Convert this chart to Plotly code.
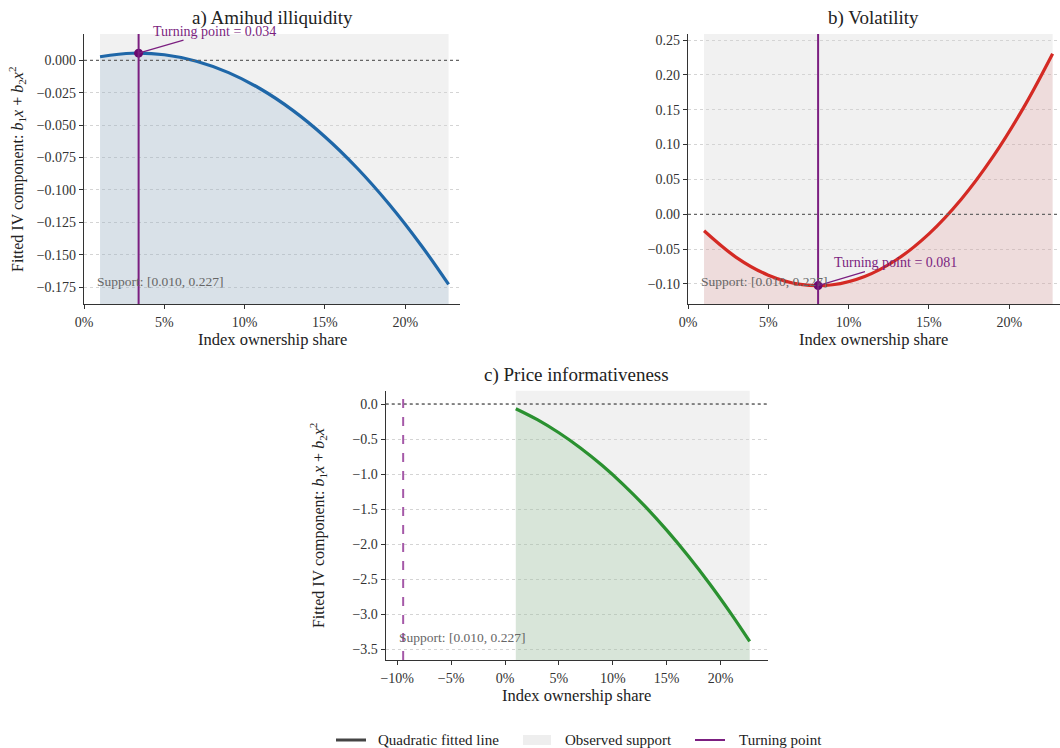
import plotly.graph_objects as go

# ---------------- data ----------------
x_grid = [0.010, 0.030, 0.050, 0.070, 0.090, 0.110, 0.130, 0.150, 0.170, 0.190, 0.210, 0.227]
amihud_y = [0.00278, 0.00546, 0.00431, -0.00067, -0.00949, -0.02213, -0.03861, -0.05892,
            -0.08306, -0.11104, -0.14284, -0.17289]
vol_y = [-0.02371, -0.06177, -0.08735, -0.10045, -0.10107, -0.08921, -0.06487, -0.02805,
         0.02125, 0.08303, 0.15729, 0.23022]
info_y = [-0.0668, -0.2232, -0.410, -0.6272, -0.8748, -1.1528, -1.4612, -1.800,
          -2.1692, -2.5688, -2.9988, -3.3882]
support = [0.010, 0.227]
panel_titles = ["a) Amihud illiquidity", "b) Volatility", "c) Price informativeness"]
turning_x = [0.034, 0.081, -0.0945]
turning_y = [0.0055, -0.1023, None]
turning_text = ["Turning point = 0.034", "Turning point = 0.081", None]
support_text = "Support: [0.010, 0.227]"
legend_labels = ["Quadratic fitted line", "Observed support", "Turning point"]

x_ticks_ab = [0, 0.05, 0.10, 0.15, 0.20]
x_ticks_c = [-0.10, -0.05, 0, 0.05, 0.10, 0.15, 0.20]
y_ticks_a = [0, -0.025, -0.05, -0.075, -0.10, -0.125, -0.15, -0.175]
y_ticks_b = [-0.10, -0.05, 0, 0.05, 0.10, 0.15, 0.20, 0.25]
y_ticks_c = [0, -0.5, -1.0, -1.5, -2.0, -2.5, -3.0, -3.5]

# ---------------- styling ----------------
FONT = "Liberation Serif"
PURPLE = "#7b1f80"
SUPPORT_FILL = "#f1f1f1"
W, H = 1060, 748

panels = [
    dict(y=amihud_y, color="#1f67a8", fill="rgba(31,103,168,0.11)",
         xdom=[84 / W, 460 / W], ydom=[1 - 304 / H, 1 - 34 / H],
         xr=[0, 0.2341], yr=[-0.188, 0.0203], xt=x_ticks_ab, yt=y_ticks_a, yfmt=".3f",
         ytitle=True, vdash="solid", ann=(76, -22)),
    dict(y=vol_y, color="#d42a24", fill="rgba(212,42,36,0.10)",
         xdom=[688 / W, 1.0], ydom=[1 - 304 / H, 1 - 34 / H],
         xr=[0, 0.2316], yr=[-0.1287, 0.2586], xt=x_ticks_ab, yt=y_ticks_b, yfmt=".2f",
         ytitle=False, vdash="solid", ann=(77, -23)),
    dict(y=info_y, color="#2a9130", fill="rgba(42,145,48,0.12)",
         xdom=[385.7 / W, 768 / W], ydom=[1 - 660 / H, 1 - 390.7 / H],
         xr=[-0.1107, 0.2440], yr=[-3.653, 0.19], xt=x_ticks_c, yt=y_ticks_c, yfmt=".1f",
         ytitle=True, vdash="dash", ann=None),
]

fig = go.Figure()
shapes = []
annotations = []

for i, p in enumerate(panels):
    n = "" if i == 0 else str(i + 1)
    xa, ya = "x" + n, "y" + n
    ymin = p["yr"][0]
    # baseline for fill
    fig.add_trace(go.Scatter(x=[support[0], support[1]], y=[ymin, ymin], xaxis=xa, yaxis=ya,
                             mode="lines", line=dict(width=0), showlegend=False,
                             hoverinfo="skip"))
    fig.add_trace(go.Scatter(x=x_grid, y=p["y"], xaxis=xa, yaxis=ya, mode="lines",
                             line=dict(color=p["color"], width=3.2, shape="spline"),
                             fill="tonexty", fillcolor=p["fill"], showlegend=False))
    # support shading
    shapes.append(dict(type="rect", xref=xa, yref=ya + " domain", x0=support[0], x1=support[1],
                       y0=0, y1=1, fillcolor=SUPPORT_FILL, line=dict(width=0), layer="below"))
    # zero line
    shapes.append(dict(type="line", xref=xa + " domain", yref=ya, x0=0, x1=1, y0=0, y1=0,
                       line=dict(color="#666666", width=1.3, dash="dot"), layer="above"))
    # turning line
    tcolor = PURPLE if p["vdash"] == "solid" else "#a559a8"
    shapes.append(dict(type="line", xref=xa, yref=ya + " domain", x0=turning_x[i], x1=turning_x[i],
                       y0=0, y1=1, line=dict(color=tcolor, width=2, dash=p["vdash"]),
                       layer="above"))
    if turning_y[i] is not None:
        fig.add_trace(go.Scatter(x=[turning_x[i]], y=[turning_y[i]], xaxis=xa, yaxis=ya,
                                 mode="markers", marker=dict(color="#6a0a6e", size=9),
                                 showlegend=False))
        annotations.append(dict(x=turning_x[i], y=turning_y[i], xref=xa, yref=ya,
                                text=turning_text[i], showarrow=True, arrowhead=0,
                                arrowwidth=1.2, arrowcolor=PURPLE, ax=p["ann"][0], ay=p["ann"][1],
                                font=dict(family=FONT, size=14, color=PURPLE)))
    annotations.append(dict(x=0.03, y=0.085, xref=xa + " domain", yref=ya + " domain",
                            text=support_text, showarrow=False, xanchor="left", yanchor="middle",
                            font=dict(family=FONT, size=13.5, color="#666666")))
    # titles
    xc = (p["xdom"][0] + p["xdom"][1]) / 2
    annotations.append(dict(x=xc, y=p["ydom"][1] + 16 / H, xref="paper", yref="paper",
                            text=panel_titles[i], showarrow=False, xanchor="center",
                            yanchor="middle", font=dict(family=FONT, size=19, color="#222")))
    annotations.append(dict(x=xc, y=p["ydom"][0] - 35 / H, xref="paper", yref="paper",
                            text="Index ownership share", showarrow=False, xanchor="center",
                            yanchor="middle", font=dict(family=FONT, size=16.5, color="#222")))
    if p["ytitle"]:
        annotations.append(dict(x=p["xdom"][0] - 67 / W, y=(p["ydom"][0] + p["ydom"][1]) / 2,
                                xref="paper", yref="paper", textangle=-90,
                                text="Fitted IV component: <i>b</i><sub>1</sub><i>x</i> + "
                                     "<i>b</i><sub>2</sub><i>x</i><sup>2</sup>",
                                showarrow=False, xanchor="center", yanchor="middle",
                                font=dict(family=FONT, size=16, color="#222")))

    axis_common = dict(showline=True, linecolor="#333333", linewidth=1.2, ticks="outside",
                       ticklen=4, tickcolor="#333333", tickfont=dict(family=FONT, size=14,
                                                                    color="#333"),
                       zeroline=False, automargin=False, mirror=False)
    fig.layout["xaxis" + n] = dict(domain=p["xdom"], range=p["xr"], tickvals=p["xt"],
                                   tickformat=".0%", showgrid=False, anchor=ya,
                                   ticklabelstandoff=1, **axis_common)
    fig.layout["yaxis" + n] = dict(domain=p["ydom"], range=p["yr"], tickvals=p["yt"],
                                   tickformat=p["yfmt"], showgrid=True, gridcolor="#d4d4d4",
                                   griddash="3px,3px", gridwidth=1, anchor=xa, **axis_common)

# ---------------- manual legend at the bottom ----------------
LY = 1 - 740 / H
shapes.append(dict(type="line", xref="paper", yref="paper", x0=336 / W, x1=366 / W, y0=LY, y1=LY,
                   line=dict(color="#444444", width=3)))
shapes.append(dict(type="rect", xref="paper", yref="paper", x0=523 / W, x1=551 / W,
                   y0=LY - 5 / H, y1=LY + 5 / H, fillcolor="#eeeeee", line=dict(width=0)))
shapes.append(dict(type="line", xref="paper", yref="paper", x0=695 / W, x1=725 / W, y0=LY, y1=LY,
                   line=dict(color=PURPLE, width=2)))
for lx, lab in zip([376, 563, 737], legend_labels):
    annotations.append(dict(x=lx / W, y=LY, xref="paper", yref="paper", text=lab,
                            showarrow=False, xanchor="left", yanchor="middle",
                            font=dict(family=FONT, size=15, color="#222")))

fig.update_layout(
    width=W, height=H, margin=dict(l=0, r=0, t=0, b=0),
    paper_bgcolor="white", plot_bgcolor="white",
    font=dict(family=FONT, size=13, color="#222"),
    shapes=shapes, annotations=annotations, showlegend=False,
)

fig.write_html("out.html")
